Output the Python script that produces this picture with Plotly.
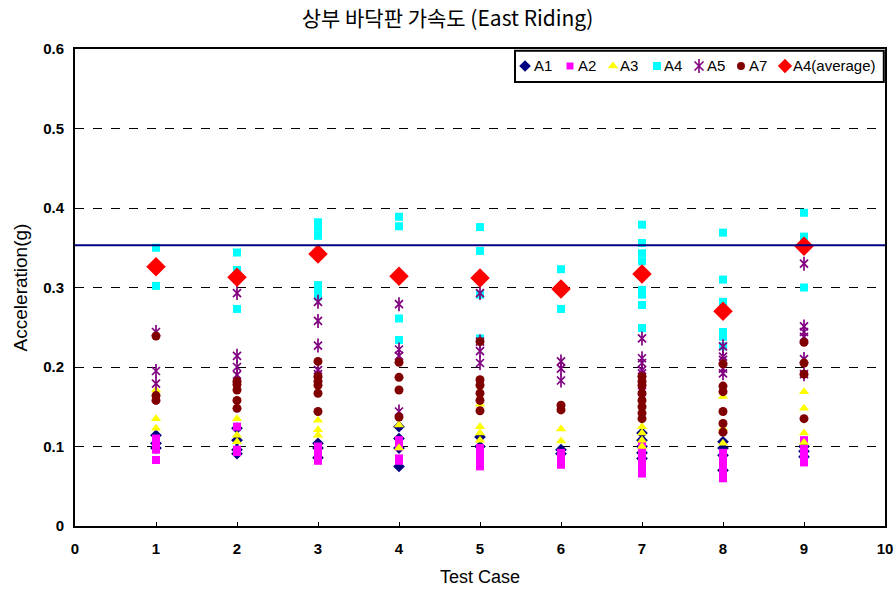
import plotly.graph_objects as go

# Test cases on the x axis
cases = [1, 2, 3, 4, 5, 6, 7, 8, 9]

# Peak accelerations (g) per sensor, one list per test case
A1 = [
    [0.114, 0.104, 0.098],
    [0.123, 0.108, 0.096, 0.091],
    [0.104, 0.098, 0.086],
    [0.125, 0.110, 0.098, 0.075],
    [0.112, 0.100],
    [0.096, 0.091],
    [0.117, 0.108, 0.100, 0.092, 0.085],
    [0.106, 0.098, 0.089, 0.070],
    [0.100, 0.094, 0.087],
]
A2 = [
    [0.110, 0.102, 0.096, 0.083],
    [0.125, 0.096, 0.093],
    [0.100, 0.094, 0.088, 0.082],
    [0.108, 0.100, 0.085, 0.082],
    [0.098, 0.090, 0.082, 0.075],
    [0.092, 0.084, 0.077],
    [0.102, 0.095, 0.088, 0.080, 0.072, 0.066],
    [0.092, 0.085, 0.077, 0.068, 0.060],
    [0.108, 0.097, 0.088, 0.080],
]
A3 = [
    [0.171, 0.135, 0.123],
    [0.135, 0.114, 0.106],
    [0.133, 0.121, 0.114],
    [0.127, 0.098],
    [0.153, 0.125, 0.117, 0.108],
    [0.122, 0.107],
    [0.125, 0.117, 0.108, 0.100],
    [0.163, 0.123, 0.104],
    [0.169, 0.148, 0.117, 0.105],
]
A4 = [
    [0.350, 0.302],
    [0.344, 0.322, 0.273],
    [0.382, 0.375, 0.365, 0.303, 0.297, 0.289],
    [0.389, 0.377, 0.261, 0.234],
    [0.376, 0.346, 0.291, 0.236],
    [0.323, 0.273],
    [0.379, 0.356, 0.343, 0.333, 0.297, 0.291, 0.278, 0.249],
    [0.369, 0.310, 0.282, 0.244, 0.238, 0.226],
    [0.394, 0.364, 0.300],
]
A5 = [
    [0.244, 0.195, 0.179],
    [0.293, 0.214, 0.200, 0.190],
    [0.282, 0.258, 0.227, 0.196, 0.191],
    [0.279, 0.222, 0.214, 0.144],
    [0.293, 0.232, 0.220, 0.205],
    [0.207, 0.198, 0.183],
    [0.236, 0.211, 0.205, 0.196, 0.192, 0.169],
    [0.226, 0.213, 0.209, 0.198, 0.192],
    [0.330, 0.251, 0.244, 0.238, 0.210, 0.191],
]
A7 = [
    [0.239, 0.164, 0.158],
    [0.182, 0.178, 0.171, 0.158, 0.148],
    [0.207, 0.188, 0.182, 0.177, 0.167, 0.144],
    [0.206, 0.187, 0.171, 0.137],
    [0.232, 0.184, 0.177, 0.167, 0.158, 0.145],
    [0.152, 0.146],
    [0.188, 0.182, 0.177, 0.167, 0.158, 0.150, 0.142, 0.135],
    [0.204, 0.176, 0.169, 0.144, 0.129, 0.118],
    [0.231, 0.205, 0.191, 0.135],
]
A4_average = [0.326, 0.313, 0.342, 0.314, 0.312, 0.298, 0.317, 0.270, 0.352]
reference_level = 0.353

x_ticks = [0, 1, 2, 3, 4, 5, 6, 7, 8, 9, 10]
y_ticks = [0, 0.1, 0.2, 0.3, 0.4, 0.5, 0.6]
y_tick_text = ["0", "0.1", "0.2", "0.3", "0.4", "0.5", "0.6"]

legend_names = ["A1", "A2", "A3", "A4", "A5", "A7", "A4(average)"]

FONT = "Liberation Sans, Arial, sans-serif"
NAVY, MAGENTA, YELLOW, CYAN = "#000080", "#FF00FF", "#FFFF00", "#00FFFF"
PURPLE, MAROON, RED = "#800080", "#800000", "#FF0000"

# marker style per series (same order as legend_names)
styles = [
    dict(symbol="diamond", size=9, color=NAVY),
    dict(symbol="square", size=8, color=MAGENTA),
    dict(symbol="triangle-up", size=9, color=YELLOW),
    dict(symbol="square", size=8, color=CYAN),
    dict(symbol="x-thin-open", size=8, color=PURPLE),
    dict(symbol="circle", size=9, color=MAROON),
    dict(symbol="diamond", size=15, color=RED),
]


def flatten(groups):
    xs, ys = [], []
    for c, vals in zip(cases, groups):
        for v in vals:
            xs.append(c)
            ys.append(v)
    return xs, ys


def marker_for(style, lw=0):
    return dict(symbol=style["symbol"], size=style["size"], color=style["color"],
                line=dict(width=lw, color=style["color"]))


fig = go.Figure()

for name, data, style in zip(legend_names[:4], [A1, A2, A3, A4], styles[:4]):
    xs, ys = flatten(data)
    fig.add_trace(go.Scatter(x=xs, y=ys, mode="markers", name=name,
                             marker=marker_for(style)))

# A5 star marker: an X crossed with a vertical bar
xs5, ys5 = flatten(A5)
fig.add_trace(go.Scatter(x=xs5, y=ys5, mode="markers", name="A5",
                         marker=marker_for(styles[4], 1.7)))
fig.add_trace(go.Scatter(x=xs5, y=ys5, mode="markers", name="A5", hoverinfo="skip",
                         marker=dict(symbol="line-ns-open", size=10, color=PURPLE,
                                     line=dict(width=1.7, color=PURPLE))))

xs7, ys7 = flatten(A7)
fig.add_trace(go.Scatter(x=xs7, y=ys7, mode="markers", name="A7",
                         marker=marker_for(styles[5])))

fig.add_trace(go.Scatter(x=cases, y=A4_average, mode="markers", name="A4(average)",
                         marker=marker_for(styles[6])))

# Horizontal reference line across the plot
fig.add_shape(type="line", xref="paper", x0=0, x1=1, yref="y",
              y0=reference_level, y1=reference_level,
              line=dict(color=NAVY, width=2))

# ---- compact legend box in the top-right corner (drawn on a 0..1 overlay axis) ----
sym_x = [0.5556, 0.6111, 0.6642, 0.7185, 0.7704, 0.8222, 0.8765]
txt_x = [0.5667, 0.6210, 0.6728, 0.7272, 0.7802, 0.8321, 0.8864]
leg_y = 0.9644
leg_sizes = [9, 7, 9, 8, 9, 8, 11]
for i, style in enumerate(styles):
    m = marker_for(style, 1.6 if i == 4 else 0)
    m["size"] = leg_sizes[i]
    fig.add_trace(go.Scatter(x=[sym_x[i]], y=[leg_y], xaxis="x2", yaxis="y2",
                             mode="markers", marker=m, hoverinfo="skip",
                             showlegend=False))
    if i == 4:
        fig.add_trace(go.Scatter(x=[sym_x[i]], y=[leg_y], xaxis="x2", yaxis="y2",
                                 mode="markers", hoverinfo="skip", showlegend=False,
                                 marker=dict(symbol="line-ns-open", size=10, color=PURPLE,
                                             line=dict(width=1.6, color=PURPLE))))
    fig.add_annotation(x=txt_x[i], y=leg_y, xref="paper", yref="paper",
                       text=legend_names[i], showarrow=False, xanchor="left",
                       yanchor="middle", xshift=-2,
                       font=dict(family=FONT, size=15, color="black"))

fig.add_shape(type="rect", xref="paper", yref="paper", x0=0.5432, x1=0.9985,
              y0=0.9308, y1=0.9965, line=dict(color="black", width=2),
              fillcolor="rgba(0,0,0,0)", layer="above")

fig.update_layout(
    width=895, height=592,
    margin=dict(l=75, r=10, t=49, b=66),
    paper_bgcolor="white", plot_bgcolor="white",
    title=dict(text="상부 바닥판 가속도 (East Riding)", x=0.5, xanchor="center",
               y=0.969, yanchor="middle",
               font=dict(family="Noto Sans CJK KR", size=21, color="black")),
    font=dict(family=FONT, color="black", size=15),
    showlegend=False,
    xaxis=dict(range=[0, 10], tickvals=x_ticks, ticktext=[str(t) for t in x_ticks],
               showgrid=False, zeroline=False, showline=True, linecolor="black",
               linewidth=2, mirror=True, ticks="inside", ticklen=4, tickcolor="black",
               ticklabelstandoff=8, automargin=False,
               tickfont=dict(family=FONT, size=15, weight="bold"),
               title=dict(text="Test Case", font=dict(family=FONT, size=18), standoff=14)),
    yaxis=dict(range=[0, 0.6], tickvals=y_ticks, ticktext=y_tick_text,
               showgrid=True, gridcolor="black", gridwidth=1, griddash="dash",
               zeroline=False, showline=True, linecolor="black", linewidth=2,
               mirror=True, ticks="", ticklabelstandoff=6, automargin=False,
               tickfont=dict(family=FONT, size=15, weight="bold"),
               title=dict(text="Acceleration(g)", font=dict(family=FONT, size=19),
                          standoff=10)),
    xaxis2=dict(range=[0, 1], overlaying="x", visible=False, fixedrange=True),
    yaxis2=dict(range=[0, 1], overlaying="y", visible=False, fixedrange=True),
)

fig.write_html("out.html")
